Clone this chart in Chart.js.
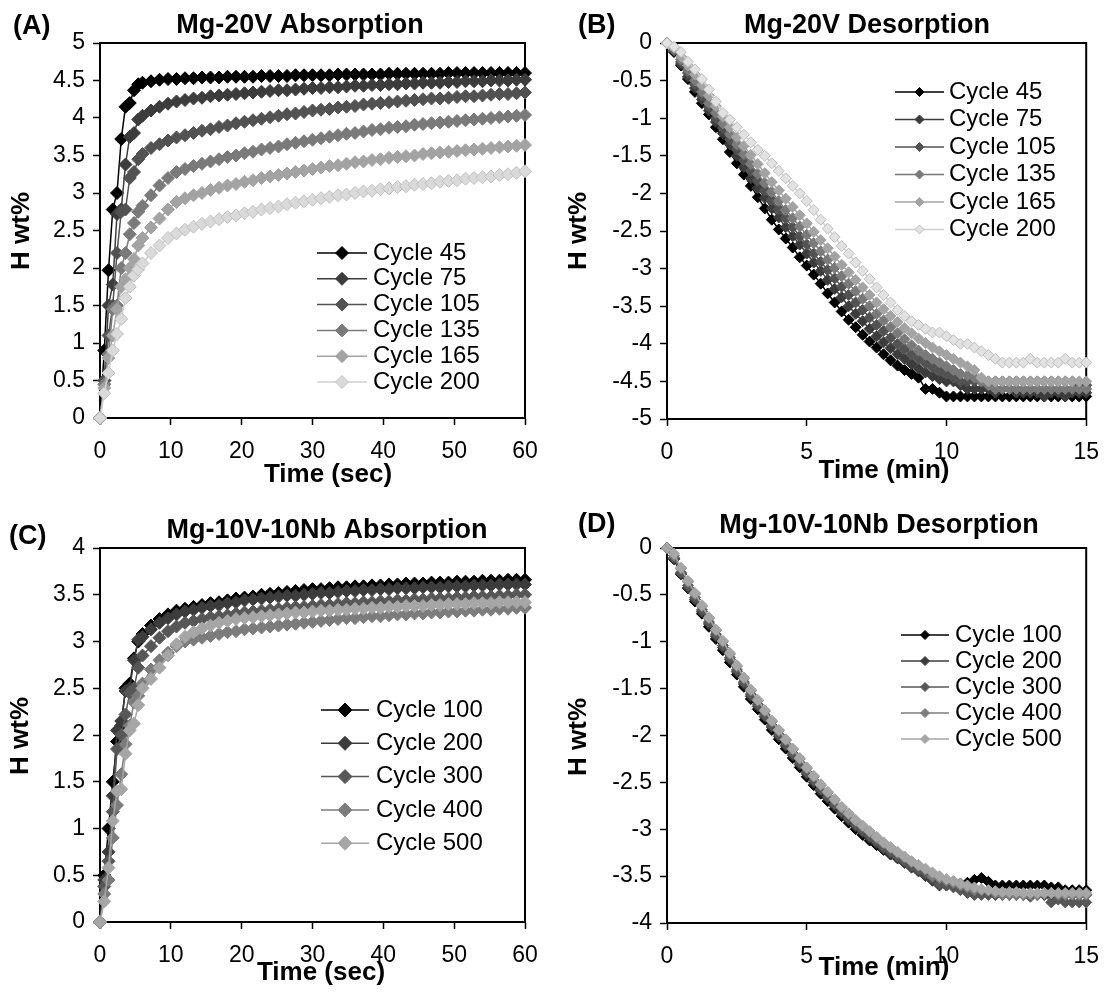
<!DOCTYPE html>
<html>
<head>
<meta charset="utf-8">
<title>Mg-20V and Mg-10V-10Nb cycling kinetics</title>
<script src="https://cdn.jsdelivr.net/npm/chart.js@4.4.1/dist/chart.umd.min.js"></script>
<style>
  body { margin: 0; background: #fff; }
  #fig { position: relative; width: 1112px; height: 996px; }
  .panel { position: absolute; width: 556px; height: 498px; }
</style>
</head>
<body>
<div id="fig">
  <div class="panel" style="left:0;top:0"><canvas id="chartA" width="556" height="498"></canvas></div>
  <div class="panel" style="left:556px;top:0"><canvas id="chartB" width="556" height="498"></canvas></div>
  <div class="panel" style="left:0;top:498px"><canvas id="chartC" width="556" height="498"></canvas></div>
  <div class="panel" style="left:556px;top:498px"><canvas id="chartD" width="556" height="498"></canvas></div>
</div>
<script>
/* Time axes */
const seconds = [0, 0.6, 1.2, 1.8, 2.4, 3, 3.6, 4.2, 4.8, 5.4,
  6, 7.2, 8.4, 9.6, 10.8,
  12, 13.2, 14.4, 15.6, 16.8, 18, 19.2, 20.4, 21.6, 22.8,
  24, 25.2, 26.4, 27.6, 28.8, 30, 31.2, 32.4, 33.6, 34.8,
  36, 37.2, 38.4, 39.6, 40.8, 42, 43.2, 44.4, 45.6, 46.8,
  48, 49.2, 50.4, 51.6, 52.8, 54, 55.2, 56.4, 57.6, 58.8,
  60];
const minutes = [0, 0.25, 0.5, 0.75, 1, 1.25, 1.5, 1.75, 2, 2.25,
  2.5, 2.75, 3, 3.25, 3.5, 3.75, 4, 4.25, 4.5, 4.75,
  5, 5.25, 5.5, 5.75, 6, 6.25, 6.5, 6.75, 7, 7.25,
  7.5, 7.75, 8, 8.25, 8.5, 8.75, 9, 9.25, 9.5, 9.75,
  10, 10.25, 10.5, 10.75, 11, 11.25, 11.5, 11.75, 12, 12.25,
  12.5, 12.75, 13, 13.25, 13.5, 13.75, 14, 14.25, 14.5, 14.75,
  15];

/* Tick values */
const secTicks = [0, 10, 20, 30, 40, 50, 60];
const minTicks = [0, 5, 10, 15];
const wtTicksA = [0, 0.5, 1, 1.5, 2, 2.5, 3, 3.5, 4, 4.5, 5];
const wtTicksB = [-5, -4.5, -4, -3.5, -3, -2.5, -2, -1.5, -1, -0.5, 0];
const wtTicksC = [0, 0.5, 1, 1.5, 2, 2.5, 3, 3.5, 4];
const wtTicksD = [-4, -3.5, -3, -2.5, -2, -1.5, -1, -0.5, 0];

const cyclesMg20V = [45, 75, 105, 135, 165, 200];
const cyclesMgVNb = [100, 200, 300, 400, 500];

/* (A) Mg-20V absorption, H wt% vs seconds */
const a45 = [0, 0.9, 1.97, 2.78, 3.0, 3.72, 4.15, 4.2, 4.37, 4.45,
  4.47, 4.49, 4.51, 4.52, 4.52,
  4.53, 4.53, 4.54, 4.54, 4.54, 4.55, 4.55, 4.55, 4.55, 4.56,
  4.56, 4.56, 4.56, 4.57, 4.57, 4.57, 4.57, 4.57, 4.58, 4.58,
  4.58, 4.58, 4.58, 4.58, 4.59, 4.59, 4.59, 4.59, 4.59, 4.59,
  4.59, 4.6, 4.6, 4.6, 4.6, 4.6, 4.6, 4.6, 4.6, 4.6,
  4.6];
const a75 = [0, 0.5, 1.5, 1.78, 2.72, 2.78, 3.38, 3.75, 3.8, 3.98,
  4.03, 4.1, 4.15, 4.19, 4.22,
  4.24, 4.26, 4.27, 4.29, 4.3, 4.31, 4.32, 4.33, 4.34, 4.35,
  4.36, 4.37, 4.37, 4.38, 4.39, 4.4, 4.4, 4.41, 4.41, 4.42,
  4.43, 4.43, 4.44, 4.44, 4.45, 4.45, 4.46, 4.46, 4.47, 4.47,
  4.47, 4.48, 4.48, 4.49, 4.49, 4.49, 4.5, 4.5, 4.5, 4.51,
  4.51];
const a105 = [0, 0.5, 1.1, 1.5, 2.2, 2.75, 2.78, 3.2, 3.28, 3.45,
  3.52, 3.6, 3.65, 3.7, 3.74,
  3.77, 3.8, 3.83, 3.85, 3.88, 3.9, 3.93, 3.95, 3.97, 3.99,
  4.01, 4.03, 4.05, 4.06, 4.08, 4.1, 4.11, 4.12, 4.14, 4.15,
  4.16, 4.18, 4.19, 4.2, 4.21, 4.22, 4.23, 4.24, 4.25, 4.26,
  4.26, 4.27, 4.28, 4.29, 4.29, 4.3, 4.31, 4.32, 4.32, 4.33,
  4.34];
const a135 = [0, 0.45, 0.85, 1.45, 1.5, 2.0, 2.2, 2.45, 2.6, 2.75,
  2.83, 2.97, 3.1, 3.2, 3.28,
  3.32, 3.36, 3.39, 3.42, 3.45, 3.48, 3.5, 3.53, 3.55, 3.58,
  3.6, 3.62, 3.65, 3.67, 3.69, 3.71, 3.73, 3.75, 3.77, 3.79,
  3.8, 3.82, 3.84, 3.85, 3.87, 3.88, 3.89, 3.91, 3.92, 3.93,
  3.94, 3.95, 3.96, 3.97, 3.98, 3.99, 4.0, 4.01, 4.02, 4.03,
  4.04];
const a165 = [0, 0.4, 0.8, 1.1, 1.45, 1.75, 1.85, 2.0, 2.12, 2.3,
  2.4, 2.54, 2.66, 2.78, 2.88,
  2.93, 2.97, 3.0, 3.04, 3.07, 3.1, 3.12, 3.15, 3.17, 3.2,
  3.22, 3.24, 3.26, 3.28, 3.3, 3.32, 3.34, 3.36, 3.37, 3.39,
  3.41, 3.42, 3.44, 3.45, 3.47, 3.48, 3.49, 3.5, 3.52, 3.53,
  3.54, 3.55, 3.56, 3.57, 3.58, 3.59, 3.6, 3.61, 3.62, 3.63,
  3.64];
const a200 = [0, 0.33, 0.6, 0.9, 1.12, 1.32, 1.6, 1.75, 1.9, 1.98,
  2.06, 2.2, 2.3, 2.4, 2.46,
  2.51, 2.55, 2.59, 2.62, 2.65, 2.68, 2.7, 2.73, 2.75, 2.78,
  2.8, 2.82, 2.85, 2.87, 2.89, 2.91, 2.93, 2.95, 2.97, 2.98,
  3.0, 3.02, 3.03, 3.05, 3.06, 3.08, 3.09, 3.11, 3.12, 3.13,
  3.15, 3.16, 3.17, 3.19, 3.2, 3.21, 3.22, 3.24, 3.25, 3.27,
  3.29];

/* (B) Mg-20V desorption, H wt% vs minutes */
const b45 = [0, -0.12, -0.3, -0.48, -0.65, -0.8, -0.95, -1.12, -1.28, -1.45,
  -1.6, -1.75, -1.9, -2.05, -2.2, -2.35, -2.48, -2.6, -2.72, -2.85,
  -2.96, -3.08, -3.2, -3.33, -3.45, -3.57, -3.68, -3.78, -3.88, -3.97,
  -4.05, -4.14, -4.22, -4.29, -4.35, -4.4, -4.45, -4.6, -4.6, -4.65,
  -4.7, -4.7, -4.7, -4.7, -4.7, -4.7, -4.7, -4.7, -4.7, -4.7,
  -4.7, -4.7, -4.7, -4.7, -4.7, -4.7, -4.7, -4.7, -4.7, -4.7,
  -4.7];
const b75 = [0, -0.1, -0.28, -0.45, -0.6, -0.75, -0.9, -1.05, -1.2, -1.35,
  -1.5, -1.65, -1.8, -1.93, -2.06, -2.2, -2.32, -2.45, -2.57, -2.68,
  -2.8, -2.92, -3.03, -3.15, -3.27, -3.38, -3.5, -3.6, -3.7, -3.8,
  -3.9, -3.98, -4.06, -4.14, -4.2, -4.27, -4.33, -4.38, -4.43, -4.47,
  -4.5, -4.5, -4.55, -4.6, -4.6, -4.6, -4.6, -4.65, -4.6, -4.6,
  -4.65, -4.65, -4.65, -4.65, -4.7, -4.65, -4.65, -4.7, -4.65, -4.65,
  -4.65];
const b105 = [0, -0.1, -0.25, -0.4, -0.55, -0.7, -0.85, -1.0, -1.13, -1.28,
  -1.42, -1.56, -1.7, -1.83, -1.96, -2.09, -2.21, -2.33, -2.45, -2.57,
  -2.68, -2.8, -2.91, -3.02, -3.13, -3.24, -3.35, -3.45, -3.55, -3.65,
  -3.75, -3.83, -3.92, -4.0, -4.07, -4.14, -4.2, -4.26, -4.31, -4.36,
  -4.4, -4.45, -4.5, -4.5, -4.5, -4.5, -4.5, -4.5, -4.5, -4.5,
  -4.5, -4.5, -4.5, -4.5, -4.5, -4.5, -4.5, -4.5, -4.5, -4.55,
  -4.55];
const b135 = [0, -0.08, -0.22, -0.36, -0.5, -0.65, -0.8, -0.93, -1.07, -1.21,
  -1.35, -1.48, -1.61, -1.74, -1.86, -1.98, -2.1, -2.22, -2.33, -2.44,
  -2.55, -2.66, -2.77, -2.88, -2.99, -3.1, -3.2, -3.3, -3.4, -3.5,
  -3.6, -3.69, -3.78, -3.86, -3.94, -4.02, -4.09, -4.15, -4.2, -4.25,
  -4.3, -4.35, -4.4, -4.42, -4.45, -4.5, -4.55, -4.6, -4.6, -4.6,
  -4.6, -4.6, -4.6, -4.6, -4.6, -4.6, -4.6, -4.6, -4.6, -4.6,
  -4.6];
const b165 = [0, -0.06, -0.18, -0.3, -0.42, -0.56, -0.7, -0.84, -0.98, -1.12,
  -1.25, -1.37, -1.49, -1.61, -1.73, -1.85, -1.96, -2.07, -2.18, -2.29,
  -2.4, -2.51, -2.62, -2.73, -2.84, -2.95, -3.05, -3.15, -3.25, -3.35,
  -3.45, -3.54, -3.63, -3.71, -3.79, -3.86, -3.93, -3.99, -4.05, -4.1,
  -4.15, -4.2, -4.25, -4.3, -4.35, -4.45, -4.5, -4.5, -4.5, -4.5,
  -4.5, -4.5, -4.5, -4.5, -4.5, -4.5, -4.5, -4.5, -4.5, -4.5,
  -4.5];
const b200 = [0, -0.05, -0.12, -0.25, -0.35, -0.48, -0.62, -0.78, -0.93, -1.02,
  -1.12, -1.22, -1.32, -1.42, -1.5, -1.6, -1.7, -1.8, -1.9, -2.0,
  -2.1, -2.22, -2.35, -2.47, -2.58, -2.7, -2.8, -2.92, -3.03, -3.14,
  -3.25, -3.35, -3.45, -3.55, -3.63, -3.7, -3.75, -3.8, -3.85, -3.85,
  -3.9, -3.95, -4.0, -4.0, -4.05, -4.1, -4.15, -4.2, -4.25, -4.25,
  -4.25, -4.25, -4.2, -4.25, -4.25, -4.25, -4.25, -4.2, -4.25, -4.25,
  -4.25];

/* (C) Mg-10V-10Nb absorption, H wt% vs seconds */
const c100 = [0, 0.5, 1.0, 1.5, 1.93, 2.1, 2.5, 2.55, 2.82, 3.0,
  3.08, 3.17, 3.24, 3.29, 3.33,
  3.35, 3.37, 3.39, 3.41, 3.42, 3.44, 3.46, 3.47, 3.48, 3.5,
  3.51, 3.52, 3.53, 3.54, 3.55, 3.56, 3.56, 3.57, 3.58, 3.58,
  3.59, 3.59, 3.6, 3.6, 3.61, 3.61, 3.62, 3.62, 3.62, 3.63,
  3.63, 3.63, 3.64, 3.64, 3.64, 3.65, 3.65, 3.65, 3.66, 3.66,
  3.66];
const c200 = [0, 0.45, 0.75, 1.35, 2.05, 2.15, 2.47, 2.5, 2.8, 3.02,
  3.05, 3.13, 3.2, 3.25, 3.29,
  3.32, 3.34, 3.36, 3.38, 3.39, 3.41, 3.42, 3.44, 3.45, 3.46,
  3.47, 3.48, 3.49, 3.49, 3.5, 3.51, 3.52, 3.52, 3.53, 3.54,
  3.54, 3.55, 3.55, 3.56, 3.56, 3.57, 3.57, 3.57, 3.58, 3.58,
  3.58, 3.59, 3.59, 3.59, 3.6, 3.6, 3.6, 3.61, 3.61, 3.61,
  3.61];
const c300 = [0, 0.38, 0.65, 1.18, 1.85, 2.0, 2.22, 2.45, 2.5, 2.72,
  2.85, 2.95, 3.04, 3.11, 3.16,
  3.2, 3.22, 3.24, 3.26, 3.27, 3.28, 3.3, 3.31, 3.32, 3.33,
  3.34, 3.35, 3.36, 3.37, 3.37, 3.38, 3.39, 3.39, 3.4, 3.41,
  3.41, 3.42, 3.42, 3.43, 3.43, 3.44, 3.44, 3.45, 3.45, 3.46,
  3.46, 3.46, 3.47, 3.47, 3.48, 3.48, 3.48, 3.49, 3.49, 3.5,
  3.5];
const c400 = [0, 0.3, 0.45, 0.9, 1.25, 1.58, 1.9, 2.1, 2.35, 2.42,
  2.55, 2.7, 2.8, 2.88, 2.95,
  3.0, 3.02, 3.04, 3.06, 3.08, 3.1, 3.11, 3.13, 3.14, 3.15,
  3.16, 3.17, 3.18, 3.19, 3.2, 3.21, 3.22, 3.23, 3.24, 3.25,
  3.25, 3.26, 3.27, 3.27, 3.28, 3.29, 3.29, 3.3, 3.3, 3.31,
  3.31, 3.32, 3.32, 3.33, 3.33, 3.34, 3.34, 3.35, 3.35, 3.36,
  3.36];
const c500 = [0, 0.22, 0.58, 1.08, 1.4, 1.42, 1.8, 2.05, 2.12, 2.32,
  2.5, 2.6, 2.72, 2.85, 2.97,
  3.05, 3.1, 3.14, 3.17, 3.2, 3.22, 3.24, 3.25, 3.26, 3.27,
  3.28, 3.29, 3.3, 3.31, 3.31, 3.32, 3.33, 3.33, 3.34, 3.34,
  3.35, 3.35, 3.36, 3.36, 3.37, 3.37, 3.38, 3.38, 3.38, 3.39,
  3.39, 3.4, 3.4, 3.4, 3.41, 3.41, 3.41, 3.42, 3.42, 3.42,
  3.42];

/* (D) Mg-10V-10Nb desorption, H wt% vs minutes */
const d100 = [0, -0.12, -0.28, -0.43, -0.57, -0.7, -0.84, -0.97, -1.09, -1.22,
  -1.35, -1.48, -1.61, -1.72, -1.83, -1.94, -2.04, -2.14, -2.24, -2.34,
  -2.44, -2.53, -2.62, -2.7, -2.78, -2.86, -2.93, -3.0, -3.06, -3.12,
  -3.17, -3.22, -3.27, -3.31, -3.35, -3.39, -3.43, -3.47, -3.5, -3.53,
  -3.56, -3.57, -3.58, -3.57, -3.54, -3.52, -3.56, -3.6, -3.6, -3.6,
  -3.6, -3.6, -3.6, -3.6, -3.6, -3.62, -3.62, -3.65, -3.65, -3.65,
  -3.65];
const d200 = [0, -0.11, -0.27, -0.42, -0.55, -0.68, -0.81, -0.94, -1.06, -1.19,
  -1.32, -1.45, -1.58, -1.69, -1.8, -1.91, -2.01, -2.11, -2.21, -2.31,
  -2.41, -2.5, -2.59, -2.67, -2.75, -2.83, -2.9, -2.97, -3.03, -3.09,
  -3.15, -3.21, -3.26, -3.31, -3.36, -3.41, -3.45, -3.5, -3.55, -3.6,
  -3.6, -3.6, -3.62, -3.65, -3.65, -3.65, -3.68, -3.7, -3.7, -3.7,
  -3.7, -3.7, -3.7, -3.7, -3.7, -3.7, -3.7, -3.7, -3.7, -3.7,
  -3.7];
const d300 = [0, -0.1, -0.26, -0.4, -0.53, -0.66, -0.79, -0.92, -1.04, -1.17,
  -1.3, -1.43, -1.56, -1.67, -1.78, -1.89, -1.99, -2.09, -2.19, -2.29,
  -2.39, -2.48, -2.57, -2.65, -2.73, -2.81, -2.88, -2.95, -3.01, -3.07,
  -3.13, -3.19, -3.24, -3.29, -3.34, -3.39, -3.43, -3.47, -3.52, -3.58,
  -3.6, -3.62, -3.65, -3.68, -3.7, -3.7, -3.7, -3.7, -3.7, -3.7,
  -3.7, -3.7, -3.72, -3.7, -3.7, -3.78, -3.75, -3.78, -3.78, -3.78,
  -3.78];
const d400 = [0, -0.08, -0.22, -0.36, -0.49, -0.62, -0.75, -0.88, -1.0, -1.13,
  -1.26, -1.39, -1.52, -1.63, -1.74, -1.85, -1.95, -2.05, -2.15, -2.25,
  -2.35, -2.44, -2.53, -2.61, -2.69, -2.77, -2.84, -2.91, -2.97, -3.03,
  -3.09, -3.15, -3.2, -3.25, -3.3, -3.35, -3.39, -3.43, -3.5, -3.52,
  -3.55, -3.57, -3.6, -3.62, -3.65, -3.65, -3.65, -3.68, -3.7, -3.7,
  -3.7, -3.7, -3.7, -3.7, -3.68, -3.68, -3.7, -3.7, -3.7, -3.7,
  -3.7];
const d500 = [0, -0.06, -0.21, -0.35, -0.48, -0.61, -0.74, -0.87, -0.99, -1.12,
  -1.25, -1.38, -1.51, -1.62, -1.73, -1.84, -1.94, -2.04, -2.14, -2.24,
  -2.34, -2.43, -2.52, -2.6, -2.68, -2.76, -2.83, -2.9, -2.96, -3.02,
  -3.08, -3.14, -3.19, -3.24, -3.29, -3.34, -3.38, -3.42, -3.46, -3.5,
  -3.53, -3.55, -3.58, -3.6, -3.62, -3.64, -3.65, -3.66, -3.67, -3.67,
  -3.67, -3.68, -3.68, -3.68, -3.68, -3.68, -3.68, -3.68, -3.68, -3.68,
  -3.68];

const FONT = "'Liberation Sans', Arial, sans-serif";
Chart.defaults.font.family = FONT;
Chart.defaults.color = '#000';

/* Frame, titles and in-plot legend */
const decor = {
  id: 'decor',
  beforeDatasetsDraw(chart) {
    const { ctx, chartArea: a } = chart;
    ctx.save();
    ctx.strokeStyle = '#000';
    ctx.lineWidth = 2;
    ctx.strokeRect(a.left, a.top, a.right - a.left, a.bottom - a.top);
    ctx.restore();
  },
  afterDraw(chart, args, o) {
    const ctx = chart.ctx;
    ctx.save();
    ctx.fillStyle = '#000';
    ctx.textBaseline = 'middle';

    ctx.font = `bold 27px ${FONT}`;
    ctx.textAlign = 'left';
    ctx.fillText(o.letter, o.letterAt[0], o.letterAt[1]);
    ctx.textAlign = 'center';
    ctx.fillText(o.title, o.titleAt[0], o.titleAt[1]);

    ctx.font = `bold 26px ${FONT}`;
    ctx.fillText(o.xTitle, o.xTitleAt[0], o.xTitleAt[1]);
    ctx.save();
    ctx.translate(o.yTitleAt[0], o.yTitleAt[1]);
    ctx.rotate(-Math.PI / 2);
    ctx.fillText('H wt%', 0, 0);
    ctx.restore();

    // legend: line + diamond + label
    const lg = o.legend;
    chart.data.datasets.forEach((ds, i) => {
      const y = lg.y0 + i * lg.dy;
      const cx = (lg.x0 + lg.x1) / 2;
      ctx.strokeStyle = ds.borderColor;
      ctx.lineWidth = ds.borderWidth;
      ctx.beginPath();
      ctx.moveTo(lg.x0, y);
      ctx.lineTo(lg.x1, y);
      ctx.stroke();
      ctx.fillStyle = ds.pointBackgroundColor;
      ctx.strokeStyle = ds.pointBorderColor;
      ctx.lineWidth = 1;
      ctx.beginPath();
      ctx.moveTo(cx, y - lg.r);
      ctx.lineTo(cx + lg.r, y);
      ctx.lineTo(cx, y + lg.r);
      ctx.lineTo(cx - lg.r, y);
      ctx.closePath();
      ctx.fill();
      ctx.stroke();
      ctx.fillStyle = '#000';
      ctx.font = `24px ${FONT}`;
      ctx.textAlign = 'left';
      ctx.fillText(ds.label, lg.tx, y);
    });
    ctx.restore();
  },
};

function axis(values, fit, padding) {
  return {
    type: 'linear',
    min: values[0],
    max: values[values.length - 1],
    afterBuildTicks: (s) => { s.ticks = values.map((v) => ({ value: v })); },
    afterFit: fit,
    grid: { drawOnChartArea: false, drawTicks: true, tickLength: 7, tickWidth: 1.5, tickColor: '#000' },
    border: { display: true, color: '#000', width: 2 },
    ticks: {
      color: '#000',
      font: { size: 23 },
      padding,
      autoSkip: false,
      maxRotation: 0,
      callback: (v) => String(v),
    },
  };
}

function makePanel(id, cfg) {
  const n = cfg.ys.length;
  const area = cfg.area;
  return new Chart(document.getElementById(id), {
    type: 'scatter',
    data: {
      datasets: cfg.ys.map((ys, i) => ({
        label: 'Cycle ' + cfg.cycles[i],
        data: ys.map((y, k) => ({ x: cfg.xs[k], y })),
        showLine: true,
        borderColor: cfg.lines[i],
        borderWidth: 1.5,
        pointStyle: 'rectRot',
        pointRadius: cfg.mark,
        pointHoverRadius: cfg.mark,
        pointBackgroundColor: cfg.fills[i],
        pointBorderColor: cfg.edges[i],
        pointBorderWidth: 1,
        order: n - i, // later cycles drawn on top
        clip: false,
      })),
    },
    options: {
      responsive: false,
      animation: false,
      events: [],
      layout: { padding: { left: 0, top: area.top, right: 556 - area.right, bottom: 0 } },
      plugins: {
        legend: { display: false },
        tooltip: { enabled: false },
        decor: cfg.decor,
      },
      scales: {
        x: axis(cfg.xTicks, (s) => { s.height = 498 - area.bottom; }, 13),
        y: axis(cfg.yTicks, (s) => { s.width = area.left; }, 8),
      },
    },
    plugins: [decor],
  });
}

const grays6 = ['#000000', '#3c3c3c', '#525252', '#7a7a7a', '#a3a3a3', '#d0d0d0'];
const grays5 = ['#000000', '#3c3c3c', '#575757', '#7c7c7c', '#a6a6a6'];

makePanel('chartA', {
  xs: seconds, ys: [a45, a75, a105, a135, a165, a200], cycles: cyclesMg20V,
  lines: grays6, fills: [...grays6.slice(0, 5), '#dadada'], edges: [...grays6.slice(0, 5), '#c0c0c0'],
  mark: 6.5, xTicks: secTicks, yTicks: wtTicksA,
  area: { left: 100, right: 525, top: 43, bottom: 418 },
  decor: {
    letter: '(A)', letterAt: [13, 27], title: 'Mg-20V Absorption', titleAt: [300, 26],
    xTitle: 'Time (sec)', xTitleAt: [328, 475], yTitleAt: [22, 231],
    legend: { x0: 317, x1: 367, tx: 373, y0: 253, dy: 25.8, r: 6.5 },
  },
});

makePanel('chartB', {
  xs: minutes, ys: [b45, b75, b105, b135, b165, b200], cycles: cyclesMg20V,
  lines: grays6, fills: [...grays6.slice(0, 5), '#e2e2e2'], edges: [...grays6.slice(0, 5), '#bdbdbd'],
  mark: 5.5, xTicks: minTicks, yTicks: wtTicksB,
  area: { left: 111, right: 537, top: 43, bottom: 419 },
  decor: {
    letter: '(B)', letterAt: [22, 26], title: 'Mg-20V Desorption', titleAt: [311, 26],
    xTitle: 'Time (min)', xTitleAt: [328, 471], yTitleAt: [23, 231],
    legend: { x0: 339, x1: 388, tx: 393, y0: 92, dy: 27.5, r: 4.5 },
  },
});

makePanel('chartC', {
  xs: seconds, ys: [c100, c200, c300, c400, c500], cycles: cyclesMgVNb,
  lines: grays5, fills: grays5, edges: grays5,
  mark: 6.5, xTicks: secTicks, yTicks: wtTicksC,
  area: { left: 100, right: 525, top: 50, bottom: 424 },
  decor: {
    letter: '(C)', letterAt: [9, 39], title: 'Mg-10V-10Nb Absorption', titleAt: [327, 33],
    xTitle: 'Time (sec)', xTitleAt: [321, 475], yTitleAt: [21, 238],
    legend: { x0: 321, x1: 369, tx: 376, y0: 212, dy: 33.3, r: 7 },
  },
});

makePanel('chartD', {
  xs: minutes, ys: [d100, d200, d300, d400, d500], cycles: cyclesMgVNb,
  lines: grays5, fills: grays5, edges: grays5,
  mark: 5.5, xTicks: minTicks, yTicks: wtTicksD,
  area: { left: 111, right: 537, top: 50, bottom: 425 },
  decor: {
    letter: '(D)', letterAt: [22, 27], title: 'Mg-10V-10Nb Desorption', titleAt: [323, 28],
    xTitle: 'Time (min)', xTitleAt: [328, 470], yTitleAt: [23, 239],
    legend: { x0: 345, x1: 393, tx: 399, y0: 137, dy: 26, r: 4.5 },
  },
});
</script>
</body>
</html>
